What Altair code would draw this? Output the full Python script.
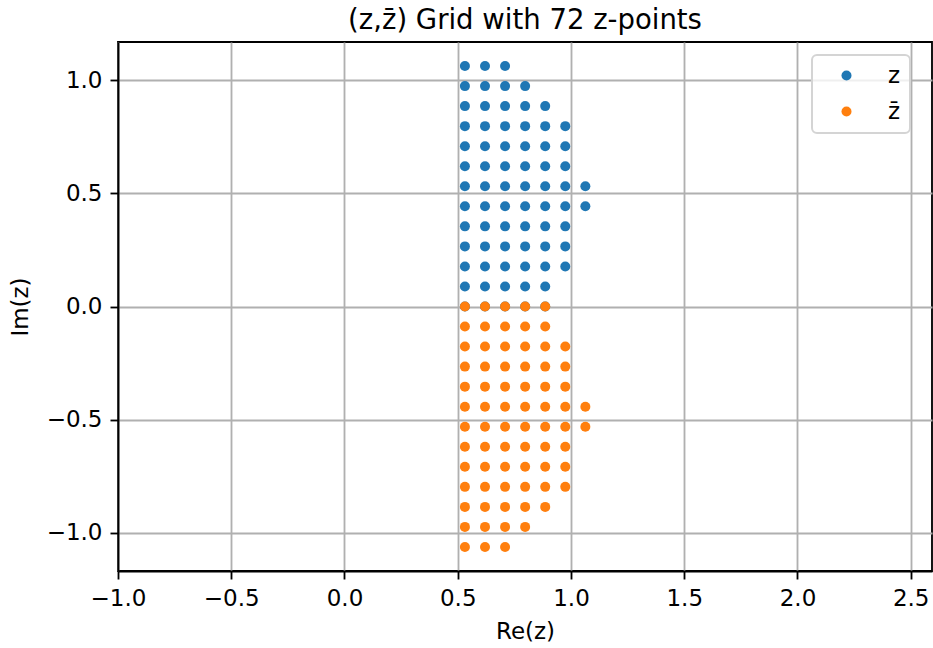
import altair as alt
import pandas as pd

# Grid levels (real and imaginary parts) of the z-point lattice
re_levels = [0.5317, 0.6204, 0.7090, 0.7976, 0.8862, 0.9748, 1.0635]
im_levels = [0.0, 0.0886, 0.1772, 0.2659, 0.3545, 0.4431, 0.5317,
             0.6204, 0.7090, 0.7976, 0.8862, 0.9748, 1.0635]
# number of lattice columns kept in each imaginary row (from Re = 0.5317 outward)
row_lengths = [5, 5, 6, 6, 6, 7, 7, 6, 6, 6, 5, 4, 3]

series_names = ["z", "z\u0304"]
series_colors = ["#1f77b4", "#ff7f0e"]

x_ticks = [-1.0, -0.5, 0.0, 0.5, 1.0, 1.5, 2.0, 2.5]
y_ticks = [-1.0, -0.5, 0.0, 0.5, 1.0]

z_re, z_im = [], []
for im, n in zip(im_levels, row_lengths):
    for re in re_levels[:n]:
        z_re.append(re)
        z_im.append(im)

rows = []
for re, im in zip(z_re, z_im):
    rows.append({"re": re, "im": im, "series": series_names[0]})
for re, im in zip(z_re, z_im):
    rows.append({"re": re, "im": -im, "series": series_names[1]})
df = pd.DataFrame(rows)
df["idx"] = range(len(df))

FONT = "DejaVu Sans"
LW = 1.83

points = alt.Chart(df).mark_circle(size=100, opacity=1).encode(
    x=alt.X(
        "re:Q",
        title="Re(z)",
        scale=alt.Scale(domain=[-1.0, 2.594], nice=False, zero=False),
        axis=alt.Axis(values=x_ticks, format=".1f", labelFlush=False),
    ),
    y=alt.Y(
        "im:Q",
        title="Im(z)",
        scale=alt.Scale(domain=[-1.1698, 1.1698], nice=False, zero=False),
        axis=alt.Axis(values=y_ticks, format=".1f", labelFlush=False),
    ),
    color=alt.Color(
        "series:N",
        title=None,
        scale=alt.Scale(domain=series_names, range=series_colors),
        legend=alt.Legend(
            orient="none",
            legendX=694,
            legendY=13,
            symbolType="circle",
            symbolSize=100,
            symbolOffset=14,
            labelOffset=30,
            labelFont=FONT,
            labelFontSize=23,
            labelColor="black",
            rowPadding=12,
            padding=9,
            fillColor="rgba(255,255,255,0.8)",
            strokeColor="#d4d4d4",
        ),
    ),
    order=alt.Order("idx:Q"),
)

chart = points.properties(
    width=814,
    height=529,
    title=alt.TitleParams(
        "(z,z\u0304) Grid with 72 z-points",
        font=FONT,
        fontSize=27.5,
        fontWeight="normal",
        color="black",
        anchor="middle",
        offset=8,
    ),
    autosize=alt.AutoSizeParams(type="none"),
    padding={"left": 118, "top": 42, "right": 1, "bottom": 77},
).configure_view(
    stroke="black",
    strokeWidth=LW,
).configure_legend(
    strokeWidth=2,
    cornerRadius=5,
).configure_axis(
    domainColor="black",
    domainWidth=LW,
    tickColor="black",
    tickWidth=LW,
    tickSize=8,
    labelFont=FONT,
    labelFontSize=23,
    labelColor="black",
    labelPadding=8,
    titleFont=FONT,
    titleFontSize=23,
    titleFontWeight="normal",
    titleColor="black",
    grid=True,
    gridColor="#b0b0b0",
    gridWidth=LW,
).configure_axisX(
    titlePadding=10,
).configure_axisY(
    titlePadding=14,
)

chart.save("out.html", embed_options={"renderer": "svg", "actions": False})
